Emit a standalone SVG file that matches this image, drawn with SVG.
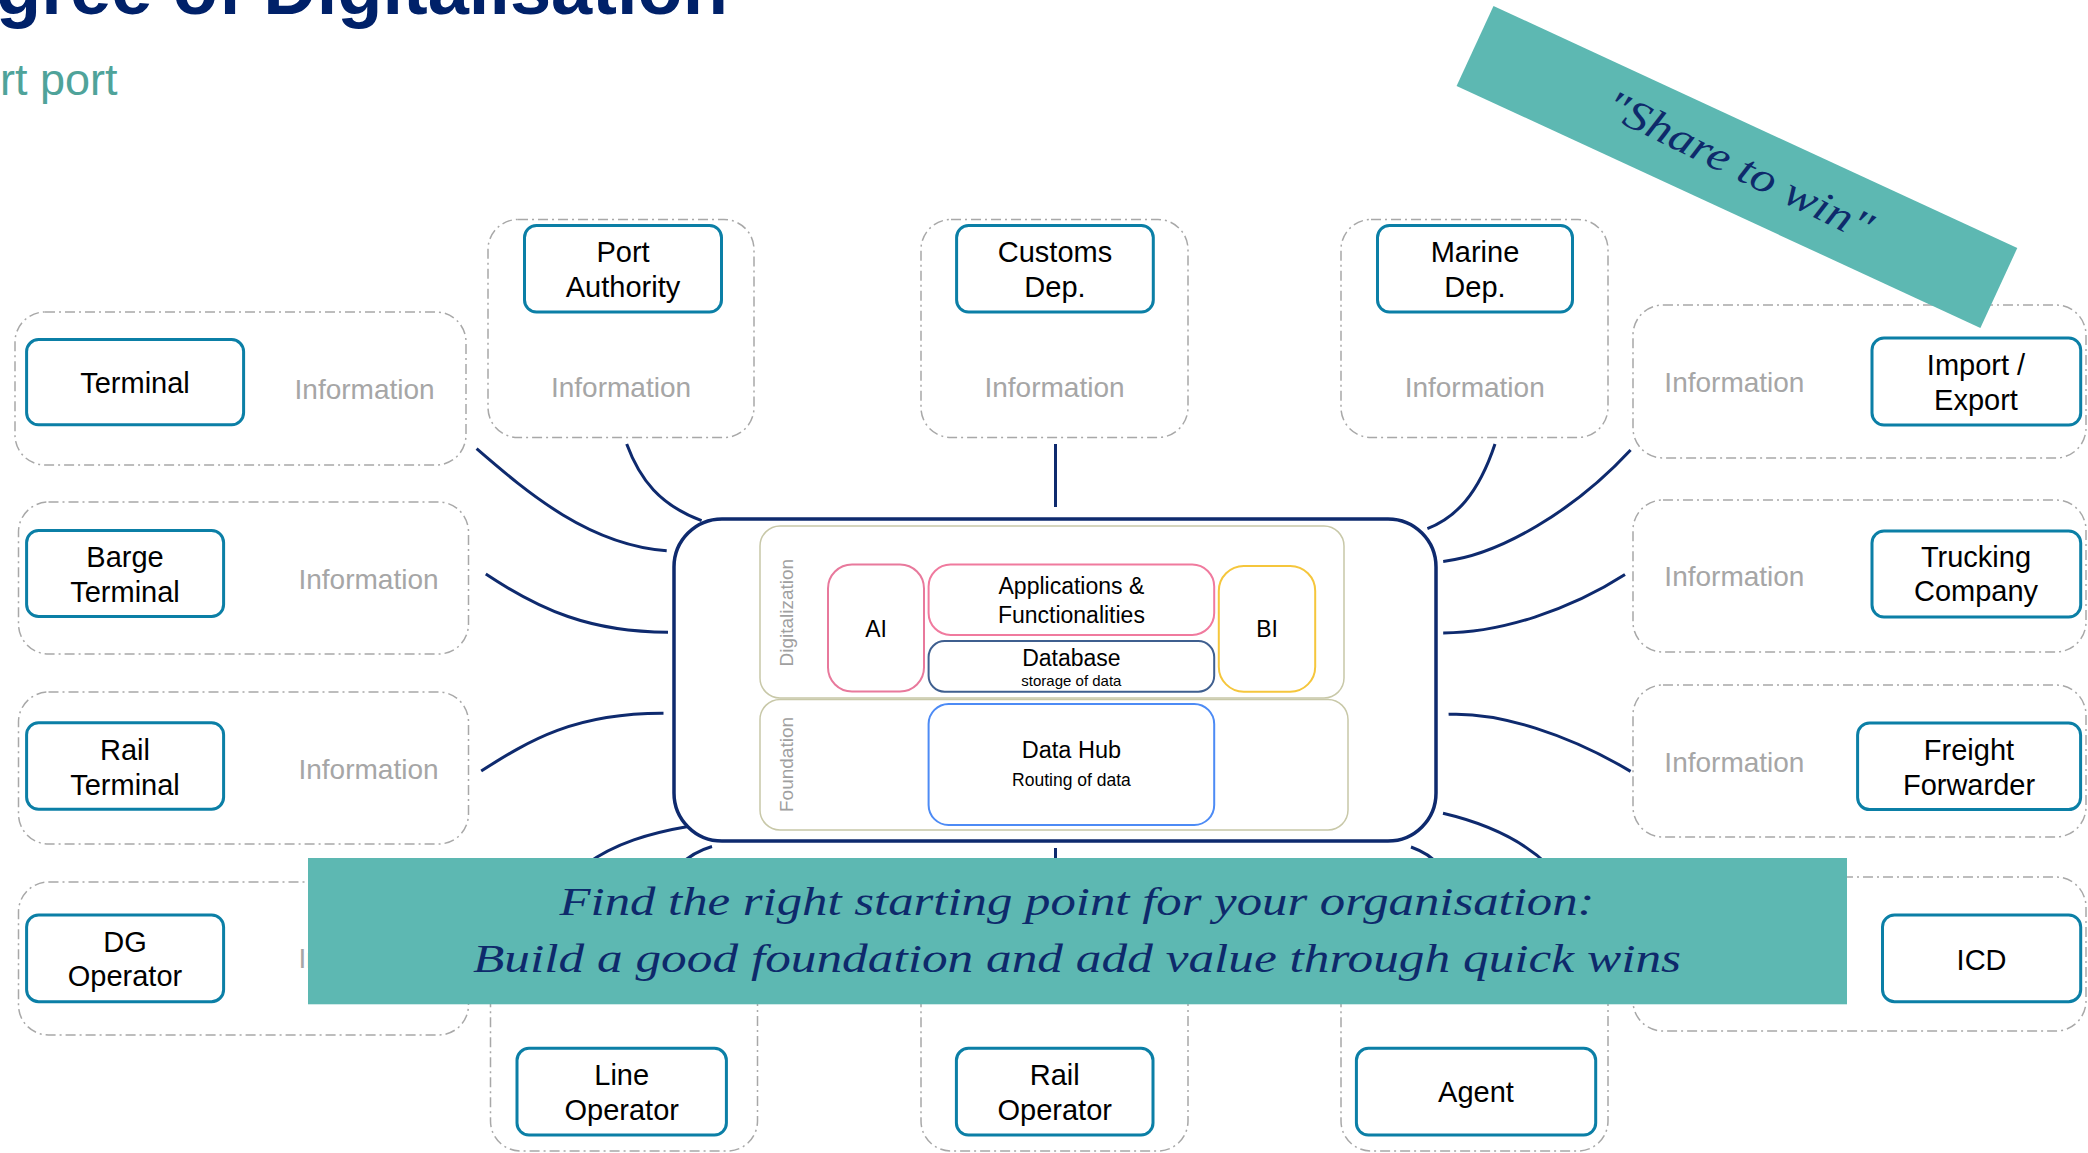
<svg xmlns="http://www.w3.org/2000/svg" width="2088" height="1153" viewBox="0 0 2088 1153">
<style>
.cont{fill:none;stroke:#A8A8A8;stroke-width:1.5;stroke-dasharray:10 4 2 4}
.node{fill:#fff;stroke:#0B7FA6;stroke-width:3}
.lbl{font-family:"Liberation Sans",Arial,sans-serif;font-size:29px;fill:#000;text-anchor:middle}
.info{font-family:"Liberation Sans",Arial,sans-serif;font-size:28px;fill:#A6A6A6;text-anchor:middle}
.conn{fill:none;stroke:#0E2A6E;stroke-width:3}
.in{font-family:"Liberation Sans",Arial,sans-serif;fill:#000;text-anchor:middle}
.side{font-family:"Liberation Sans",Arial,sans-serif;font-size:19px;fill:#A0A0A0;text-anchor:middle}
.hand{font-family:"Liberation Serif",serif;font-style:italic;fill:#0E2A6B;text-anchor:middle}
</style>
<rect width="2088" height="1153" fill="#fff"/>

<g id="title">
<text x="-4" y="14" font-family="Liberation Sans, Arial, sans-serif" font-weight="bold" font-size="74" fill="#002169">gree of Digitalisation</text>
<text x="0" y="95" font-family="Liberation Sans, Arial, sans-serif" font-size="45" fill="#4FA39A">rt port</text>
</g>

<g id="containers">
<rect class="cont" x="15" y="312" width="451" height="153" rx="30"/>
<rect class="cont" x="18.5" y="502" width="450" height="152" rx="30"/>
<rect class="cont" x="18.5" y="692" width="450" height="152" rx="30"/>
<rect class="cont" x="18.5" y="882" width="450" height="153" rx="30"/>
<rect class="cont" x="488" y="219.5" width="266" height="218" rx="30"/>
<rect class="cont" x="921" y="219.5" width="267" height="218" rx="30"/>
<rect class="cont" x="1341" y="219.5" width="267" height="218" rx="30"/>
<rect class="cont" x="1633" y="305" width="453" height="153" rx="30"/>
<rect class="cont" x="1633" y="500" width="453" height="152" rx="30"/>
<rect class="cont" x="1633" y="685" width="453" height="152" rx="30"/>
<rect class="cont" x="1633" y="877" width="453" height="154" rx="30"/>
<rect class="cont" x="490.5" y="900" width="267" height="251" rx="30"/>
<rect class="cont" x="921" y="900" width="267" height="251" rx="30"/>
<rect class="cont" x="1341" y="900" width="267" height="251" rx="30"/>
</g>

<g id="connectors">
<path class="conn" d="M476.6,448.7 C530,495 590,545 666.7,550.7"/>
<path class="conn" d="M626.7,444 C640,480 660,505 701.6,520.7"/>
<path class="conn" d="M1055.5,444 L1055.5,507"/>
<path class="conn" d="M1495,444 C1478,495 1455,518 1427.4,528.6"/>
<path class="conn" d="M1630.6,450 C1575,510 1500,555 1443.2,561.4"/>
<path class="conn" d="M1625,574.6 C1570,610 1500,633 1443.2,632.9"/>
<path class="conn" d="M1448.6,714.3 C1500,712 1570,735 1630.6,771.4"/>
<path class="conn" d="M485.8,574 C540,610 590,632 668,632.3"/>
<path class="conn" d="M481.2,771 C530,740 575,713 663.5,713.3"/>
<path class="conn" d="M690.7,826 C650,833 615,843 585,865"/>
<path class="conn" d="M712,846.5 C700,850 690,855 680,865"/>
<path class="conn" d="M1055.5,848 L1055.5,865"/>
<path class="conn" d="M1411,847 C1422,851 1432,856 1438,865"/>
<path class="conn" d="M1443,813.3 C1480,822 1520,838 1548,865"/>
</g>

<g id="center">
<rect x="674" y="519" width="762" height="322" rx="48" fill="#fff" stroke="#0E2A6E" stroke-width="3.5"/>
<rect x="760" y="526" width="584" height="172" rx="20" fill="none" stroke="#C8C8A8" stroke-width="1.5"/>
<rect x="760" y="699.5" width="588" height="130.5" rx="20" fill="none" stroke="#C8C8A8" stroke-width="1.5"/>
<text class="side" transform="translate(793,612.7) rotate(-90)">Digitalization</text>
<text class="side" transform="translate(793,764.5) rotate(-90)">Foundation</text>
<g id="ai"><rect x="828" y="564.5" width="96" height="127" rx="24" fill="#fff" stroke="#E8799C" stroke-width="2"/>
<text class="in" x="876" y="637" font-size="23">AI</text></g>
<g id="apps"><rect x="928.6" y="564.5" width="285.6" height="70.5" rx="22" fill="#fff" stroke="#F07A9E" stroke-width="2"/>
<text class="in" x="1071.4" y="594.3" font-size="23">Applications &amp;</text>
<text class="in" x="1071.4" y="622.7" font-size="23">Functionalities</text></g>
<g id="database"><rect x="928.6" y="641" width="285.6" height="50.7" rx="16" fill="#fff" stroke="#3F5F8F" stroke-width="2"/>
<text class="in" x="1071.4" y="665.7" font-size="23">Database</text>
<text class="in" x="1071.4" y="685.7" font-size="15">storage of data</text></g>
<g id="bi"><rect x="1218.8" y="566" width="96.4" height="125.7" rx="25" fill="#fff" stroke="#F5C63C" stroke-width="2"/>
<text class="in" x="1267" y="637" font-size="23">BI</text></g>
<g id="datahub"><rect x="928.6" y="704" width="285.6" height="121" rx="20" fill="#fff" stroke="#4D8BF5" stroke-width="2"/>
<text class="in" x="1071.4" y="758.3" font-size="23.5">Data Hub</text>
<text class="in" x="1071.4" y="786" font-size="17.5">Routing of data</text></g>
</g>

<g id="terminal"><rect class="node" x="26.6" y="339.6" width="217" height="85.2" rx="12"/>
<text class="lbl" x="135" y="392.5">Terminal</text>
<text class="info" x="364.6" y="399.3">Information</text></g>
<g id="barge-terminal"><rect class="node" x="26.6" y="530.5" width="197" height="86" rx="12"/>
<text class="lbl" x="125" y="566.7">Barge</text><text class="lbl" x="125" y="601.7">Terminal</text>
<text class="info" x="368.5" y="589">Information</text></g>
<g id="rail-terminal"><rect class="node" x="26.6" y="722.7" width="197" height="86.6" rx="12"/>
<text class="lbl" x="125" y="760">Rail</text><text class="lbl" x="125" y="795">Terminal</text>
<text class="info" x="368.5" y="779.3">Information</text></g>
<g id="dg-operator"><rect class="node" x="26.6" y="915" width="197" height="86.7" rx="12"/>
<text class="lbl" x="125" y="951.7">DG</text><text class="lbl" x="125" y="986">Operator</text>
<text class="info" x="368.5" y="968.3">Information</text></g>
<g id="port-authority"><rect class="node" x="524.5" y="225.5" width="197" height="86.5" rx="12"/>
<text class="lbl" x="623" y="261.7">Port</text><text class="lbl" x="623" y="297">Authority</text>
<text class="info" x="621" y="397">Information</text></g>
<g id="customs-dep"><rect class="node" x="956.6" y="225.5" width="196.7" height="86.5" rx="12"/>
<text class="lbl" x="1055" y="261.7">Customs</text><text class="lbl" x="1055" y="297">Dep.</text>
<text class="info" x="1054.5" y="397">Information</text></g>
<g id="marine-dep"><rect class="node" x="1377.5" y="225.5" width="195" height="86.5" rx="12"/>
<text class="lbl" x="1475" y="261.7">Marine</text><text class="lbl" x="1475" y="297">Dep.</text>
<text class="info" x="1474.7" y="397">Information</text></g>
<g id="import-export"><rect class="node" x="1872" y="338" width="208.7" height="87" rx="12"/>
<text class="lbl" x="1976" y="374.6">Import /</text><text class="lbl" x="1976" y="409.6">Export</text>
<text class="info" x="1734.4" y="391.8">Information</text></g>
<g id="trucking-company"><rect class="node" x="1872" y="531" width="208.7" height="86" rx="12"/>
<text class="lbl" x="1976" y="566.8">Trucking</text><text class="lbl" x="1976" y="601.4">Company</text>
<text class="info" x="1734.4" y="586.4">Information</text></g>
<g id="freight-forwarder"><rect class="node" x="1857.6" y="723" width="223" height="86.6" rx="12"/>
<text class="lbl" x="1969" y="759.6">Freight</text><text class="lbl" x="1969" y="794.6">Forwarder</text>
<text class="info" x="1734.4" y="772">Information</text></g>
<g id="icd"><rect class="node" x="1882.5" y="915" width="198.2" height="86.7" rx="12"/>
<text class="lbl" x="1981.6" y="970">ICD</text></g>
<g id="line-operator"><rect class="node" x="517" y="1048.3" width="209.4" height="86.7" rx="12"/>
<text class="lbl" x="621.7" y="1085">Line</text><text class="lbl" x="621.7" y="1120">Operator</text></g>
<g id="rail-operator"><rect class="node" x="956.4" y="1048.3" width="196.6" height="86.7" rx="12"/>
<text class="lbl" x="1054.7" y="1085">Rail</text><text class="lbl" x="1054.7" y="1120">Operator</text></g>
<g id="agent"><rect class="node" x="1356.4" y="1048.3" width="239.3" height="86.7" rx="12"/>
<text class="lbl" x="1476" y="1102">Agent</text></g>

<g id="banner">
<rect x="308" y="858" width="1539" height="146.3" fill="#5DB8B2"/>
<text class="hand" x="1077" y="915" font-size="40" textLength="1035" lengthAdjust="spacingAndGlyphs">Find the right starting point for your organisation:</text>
<text class="hand" x="1077" y="972" font-size="40" textLength="1208" lengthAdjust="spacingAndGlyphs">Build a good foundation and add value through quick wins</text>
</g>

<g id="share-to-win">
<rect x="0" y="0" width="577" height="88" fill="#5DB8B2" transform="translate(1493.5,6) rotate(24.8)"/>
<text class="hand" font-size="42" textLength="292" lengthAdjust="spacingAndGlyphs" transform="translate(1733,178) rotate(26)">"Share to win"</text>
</g>
</svg>
